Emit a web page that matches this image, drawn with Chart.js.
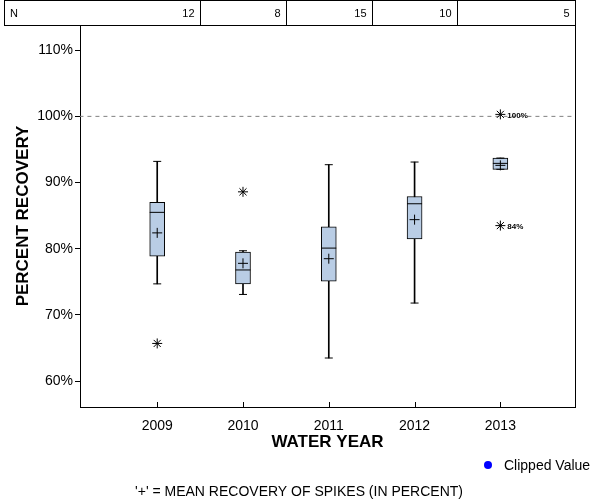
<!DOCTYPE html>
<html>
<head>
<meta charset="utf-8">
<script src="https://cdn.jsdelivr.net/npm/chart.js@4.4.1/dist/chart.umd.min.js"></script>
<style>
  body { margin: 0; background: #fff; }
  #wrap { width: 600px; height: 500px; }
</style>
</head>
<body>
<div id="wrap"><canvas id="grafico" width="600" height="500"></canvas></div>
<script>
// water years and number of spikes
var years = [2009, 2010, 2011, 2012, 2013];
var counts = [12, 8, 15, 10, 5];

// box plot stats (percent recovery)
var whiskerLow  = [74.7, 73.1, 63.5, 71.8, 92.0];
var q1          = [78.9, 74.7, 75.1, 81.5, 92.0];
var medians     = [85.5, 76.8, 80.1, 86.8, 92.9];
var q3          = [87.0, 79.5, 83.3, 87.9, 93.7];
var whiskerHigh = [93.2, 79.7, 92.7, 93.1, 93.7];
var means       = [82.4, 77.8, 78.5, 84.4, 92.6];

// outliers
var outlierYears  = [2009, 2010, 2013, 2013];
var outlierValues = [65.7, 88.6, 100.3, 83.5];
var outlierLabels = ['', '', '100%', '84%'];

var refLine = 100;
var yTicks = [60, 70, 80, 90, 100, 110];

var fuente = "'Liberation Sans', Arial, sans-serif";

function pares(valores) {
    var res = [];
    for (var i = 0; i < years.length; i++) {
        res.push({x: years[i], y: valores[i]});
    }
    return res;
}

var rangos = function(lo, hi) {
    var res = [];
    for (var i = 0; i < years.length; i++) {
        res.push({x: years[i], y: [lo[i], hi[i]]});
    }
    return res;
};

// table of N on top, right border, x ticks, legend, notes
var extras = {
    id: 'extras',
    afterDraw: function(chart) {
        var ctx = chart.ctx;
        var area = chart.chartArea;
        var xs = chart.scales.x;
        var ys = chart.scales.y;
        ctx.save();
        ctx.strokeStyle = '#000';
        ctx.lineWidth = 1;

        // N table
        ctx.strokeRect(4.5, 0.5, Math.round(area.right) - 4, 25);
        ctx.font = '11px ' + fuente;
        ctx.fillStyle = '#000';
        ctx.textBaseline = 'middle';
        ctx.textAlign = 'left';
        ctx.fillText('N', 10, 14);
        for (var i = 0; i < years.length; i++) {
            var borde = i < years.length - 1 ? Math.round(xs.getPixelForValue(years[i] + 0.5)) + 0.5 : Math.round(area.right) + 0.5;
            if (i < years.length - 1) {
                ctx.beginPath();
                ctx.moveTo(borde, 0.5);
                ctx.lineTo(borde, 25.5);
                ctx.stroke();
            }
            ctx.textAlign = 'right';
            ctx.fillText(String(counts[i]), borde - 6, 14);
        }

        // right border
        var r = Math.round(area.right) + 0.5;
        ctx.beginPath();
        ctx.moveTo(r, area.top);
        ctx.lineTo(r, area.bottom);
        ctx.stroke();

        // inward x ticks
        for (var j = 0; j < years.length; j++) {
            var px = Math.round(xs.getPixelForValue(years[j])) + 0.5;
            ctx.beginPath();
            ctx.moveTo(px, area.bottom);
            ctx.lineTo(px, area.bottom - 5);
            ctx.stroke();
        }

        // outlier labels
        ctx.font = 'bold 8px ' + fuente;
        ctx.textAlign = 'left';
        for (var k = 0; k < outlierValues.length; k++) {
            if (outlierLabels[k]) {
                ctx.fillText(outlierLabels[k], xs.getPixelForValue(outlierYears[k]) + 7, ys.getPixelForValue(outlierValues[k]) + 1);
            }
        }

        // legend
        ctx.fillStyle = '#0000ff';
        ctx.beginPath();
        ctx.arc(488, 465, 4, 0, Math.PI * 2);
        ctx.fill();
        ctx.fillStyle = '#000';
        ctx.font = '14px ' + fuente;
        ctx.fillText('Clipped Value', 504, 466);

        // footnote
        ctx.textAlign = 'center';
        ctx.fillText("'+' = MEAN RECOVERY OF SPIKES (IN PERCENT)", 299, 492);
        ctx.restore();
    }
};

var ctx = document.getElementById('grafico').getContext('2d');
var myChart = new Chart(ctx, {
    type: 'bar',
    data: {
        datasets: [{
            // whiskers
            data: rangos(whiskerLow, whiskerHigh),
            backgroundColor: '#000',
            borderWidth: 0,
            barThickness: 1,
            grouped: false,
            order: 6
        }, {
            // boxes
            data: rangos(q1, q3),
            backgroundColor: '#b9cde5',
            borderColor: '#000',
            borderWidth: 1,
            borderSkipped: false,
            barThickness: 15,
            grouped: false,
            order: 5
        }, {
            type: 'scatter',
            data: pares(whiskerLow).concat(pares(whiskerHigh)),
            pointStyle: 'line',
            pointRadius: 4,
            borderColor: '#000',
            borderWidth: 1,
            order: 2
        }, {
            type: 'scatter',
            data: pares(medians),
            pointStyle: 'line',
            pointRadius: 7.5,
            borderColor: '#000',
            borderWidth: 1,
            order: 2
        }, {
            type: 'scatter',
            data: pares(means),
            pointStyle: 'cross',
            pointRadius: 5,
            borderColor: '#000',
            borderWidth: 1,
            order: 1
        }, {
            type: 'scatter',
            data: outlierYears.map(function(a, i) { return {x: a, y: outlierValues[i]}; }),
            pointStyle: 'star',
            pointRadius: 5,
            borderColor: '#000',
            borderWidth: 1,
            order: 1
        }, {
            type: 'line',
            data: [{x: 2008, y: refLine}, {x: 2014, y: refLine}],
            borderColor: '#808080',
            borderWidth: 1,
            borderDash: [4, 4],
            pointRadius: 0,
            order: 7
        }]
    },
    options: {
        responsive: false,
        animation: false,
        events: [],
        layout: {padding: {top: 25, right: 25, left: 0, bottom: 0}},
        plugins: {
            legend: {display: false},
            tooltip: {enabled: false}
        },
        scales: {
            x: {
                type: 'linear',
                min: 2008.1,
                max: 2013.87,
                offset: false,
                afterBuildTicks: function(scale) {
                    scale.ticks = years.map(function(v) { return {value: v}; });
                },
                afterFit: function(scale) { scale.height = 93; },
                grid: {display: false, offset: false},
                border: {display: true, color: '#000', width: 1},
                ticks: {
                    color: '#000',
                    font: {family: fuente, size: 14},
                    padding: 3,
                    maxRotation: 0,
                    callback: function(v) { return String(v); }
                },
                title: {
                    display: true,
                    text: 'WATER YEAR',
                    color: '#000',
                    font: {family: fuente, size: 17, weight: 'bold'},
                    padding: {top: 0, bottom: 47}
                }
            },
            y: {
                min: 56.1,
                max: 113.8,
                afterBuildTicks: function(scale) {
                    scale.ticks = yTicks.map(function(v) { return {value: v}; });
                },
                afterFit: function(scale) { scale.width = 80; },
                grid: {drawOnChartArea: false, tickLength: 5, color: '#000'},
                border: {display: true, color: '#000', width: 1},
                ticks: {
                    color: '#000',
                    font: {family: fuente, size: 14},
                    padding: 2,
                    callback: function(v) { return v + '%'; }
                },
                title: {
                    display: true,
                    text: 'PERCENT RECOVERY',
                    color: '#000',
                    font: {family: fuente, size: 17, weight: 'bold'},
                    padding: {top: 13, bottom: 0}
                }
            }
        }
    },
    plugins: [extras]
});
</script>
</body>
</html>
